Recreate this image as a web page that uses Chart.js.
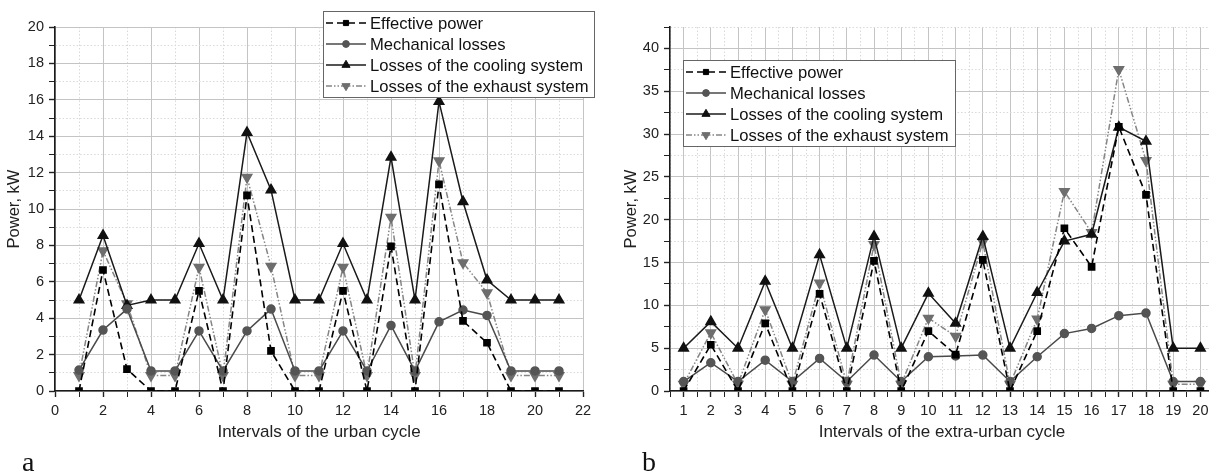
<!DOCTYPE html>
<html>
<head>
<meta charset="utf-8">
<script src="https://cdn.jsdelivr.net/npm/chart.js@4.4.0/dist/chart.umd.min.js"></script>
<style>
  body { margin: 0; width: 1209px; height: 474px; overflow: hidden; background: #fff; position: relative; }
  .box { position: absolute; top: 0; height: 474px; }
  #boxA { left: 0; width: 600px; }
  #boxB { left: 600px; width: 625px; }
  .tag { position: absolute; top: 448px; font-family: "Liberation Serif", "Times New Roman", serif; font-size: 28px; line-height: 28px; color: #111; }
</style>
</head>
<body>
<div class="box" id="boxA"><canvas id="urbanChart" width="600" height="474"></canvas></div>
<div class="box" id="boxB"><canvas id="extraChart" width="625" height="474"></canvas></div>
<div class="tag" style="left:22px">a</div>
<div class="tag" style="left:642px">b</div>
<script>
// urban cycle, kW per interval
const urbanIntervals = [1, 2, 3, 4, 5, 6, 7, 8, 9, 10, 11, 12, 13, 14, 15, 16, 17, 18, 19, 20, 21];
const urbanEffective = [0, 6.65, 1.2, 0, 0, 5.5, 0, 10.75, 2.2, 0, 0, 5.5, 0, 7.95, 0, 11.35, 3.85, 2.65, 0, 0, 0];
const urbanMechanical = [1.15, 3.35, 4.5, 1.1, 1.1, 3.3, 1.1, 3.3, 4.5, 1.1, 1.1, 3.3, 1.1, 3.6, 1.1, 3.8, 4.45, 4.15, 1.1, 1.1, 1.1];
const urbanCooling = [5, 8.55, 4.7, 5, 5, 8.1, 5, 14.2, 11.05, 5, 5, 8.1, 5, 12.85, 5, 15.9, 10.4, 6.1, 5, 5, 5];
const urbanExhaust = [0.85, 7.7, 4.8, 0.85, 0.85, 6.8, 0.85, 11.75, 6.85, 0.85, 0.85, 6.8, 0.85, 9.55, 0.85, 12.65, 7.05, 5.4, 0.85, 0.85, 0.85];

// extra-urban cycle, kW per interval
const extraIntervals = [1, 2, 3, 4, 5, 6, 7, 8, 9, 10, 11, 12, 13, 14, 15, 16, 17, 18, 19, 20];
const extraEffective = [0, 5.4, 0, 7.9, 0, 11.35, 0, 15.2, 0, 7.0, 4.25, 15.3, 0, 7.0, 19.0, 14.5, 30.85, 22.9, 0, 0];
const extraMechanical = [1.1, 3.3, 1.1, 3.6, 1.1, 3.8, 1.1, 4.2, 1.1, 4.0, 4.1, 4.2, 1.1, 4.0, 6.7, 7.3, 8.8, 9.1, 1.1, 1.1];
const extraCooling = [5, 8.1, 5, 12.8, 5, 15.9, 5, 18.05, 5, 11.4, 7.9, 18.05, 5, 11.5, 17.5, 18.3, 30.8, 29.15, 5, 5];
const extraExhaust = [0.8, 6.8, 0.8, 9.5, 0.8, 12.6, 0.8, 17.1, 0.8, 8.5, 6.4, 17.4, 0.8, 8.4, 23.3, 18.5, 37.55, 26.9, 0.8, 0.8];

const seriesNames = ['Effective power', 'Mechanical losses', 'Losses of the cooling system', 'Losses of the exhaust system'];

const sans = '"Liberation Sans", Arial, sans-serif';
const majorGrid = '#c4c4c4';
const minorGrid = '#d9d9d9';

function pts(xs, ys) {
  return xs.map((x, i) => ({ x: x, y: ys[i] }));
}

function makeDatasets(xs, eff, mech, cool, exh) {
  return [
    { label: seriesNames[0], data: pts(xs, eff), borderColor: '#000', borderWidth: 1.6, borderDash: [7, 4],
      pointStyle: 'rect', pointRadius: 4.3, pointBackgroundColor: '#000', pointBorderColor: '#000' },
    { label: seriesNames[1], data: pts(xs, mech), borderColor: '#4a4a4a', borderWidth: 1.5,
      pointStyle: 'circle', pointRadius: 4, pointBackgroundColor: '#555', pointBorderColor: '#555' },
    { label: seriesNames[2], data: pts(xs, cool), borderColor: '#1a1a1a', borderWidth: 1.5,
      pointStyle: 'triangle', pointRadius: 5.5, pointBackgroundColor: '#111', pointBorderColor: '#111' },
    { label: seriesNames[3], data: pts(xs, exh), borderColor: '#858585', borderWidth: 1.5, borderDash: [6, 2, 1.5, 2, 1.5, 2],
      pointStyle: 'triangle', pointRotation: 180, pointRadius: 5.5, pointBackgroundColor: '#6e6e6e', pointBorderColor: '#6e6e6e' }
  ];
}

// boxed legend drawn inside the plot, line sample with marker in the middle
const boxLegend = {
  id: 'boxLegend',
  afterDraw(chart, args, o) {
    const ctx = chart.ctx;
    ctx.save();
    ctx.fillStyle = '#fff';
    ctx.fillRect(o.x, o.y, o.w, o.h);
    ctx.strokeStyle = '#666';
    ctx.lineWidth = 1;
    ctx.strokeRect(o.x + 0.5, o.y + 0.5, o.w, o.h);
    chart.data.datasets.forEach((ds, i) => {
      const cy = o.y + o.first + i * o.row;
      const x0 = o.x + 3, x1 = x0 + 40;
      ctx.setLineDash(ds.borderDash || []);
      ctx.strokeStyle = ds.borderColor;
      ctx.lineWidth = ds.borderWidth;
      ctx.beginPath();
      ctx.moveTo(x0, cy);
      ctx.lineTo(x1, cy);
      ctx.stroke();
      ctx.setLineDash([]);
      ctx.fillStyle = ds.pointBackgroundColor;
      ctx.strokeStyle = ds.pointBorderColor;
      ctx.lineWidth = 1;
      Chart.helpers.drawPoint(ctx, { pointStyle: ds.pointStyle, rotation: ds.pointRotation || 0, radius: ds.pointRadius * 0.85, borderWidth: 1 }, (x0 + x1) / 2, cy);
      ctx.fillStyle = '#111';
      ctx.font = '16.6px ' + sans;
      ctx.textBaseline = 'middle';
      ctx.textAlign = 'left';
      ctx.fillText(ds.label, x1 + 4, cy + 1);
    });
    ctx.restore();
  }
};

function axis(cfg) {
  return {
    type: 'linear',
    min: cfg.min,
    max: cfg.max,
    afterFit: cfg.fit,
    ticks: {
      stepSize: cfg.step,
      autoSkip: false,
      maxRotation: 0,
      padding: 5,
      color: '#222',
      font: { family: sans, size: 14.5 },
      callback: v => cfg.isMajor(v) ? v : ''
    },
    grid: {
      color: c => (c.tick && cfg.isMajor(c.tick.value)) ? majorGrid : minorGrid,
      lineWidth: 1,
      tickColor: '#222',
      tickLength: 6,
      tickWidth: c => (c.tick && cfg.isMajor(c.tick.value)) ? 1.4 : 1
    },
    border: {
      color: '#1a1a1a',
      width: 1.6,
      dash: c => (c.tick && !cfg.isMajor(c.tick.value)) ? [1.5, 2] : []
    },
    title: {
      display: true,
      text: cfg.title,
      color: '#222',
      font: { family: sans, size: cfg.titleSize },
      padding: cfg.titlePad
    }
  };
}

function makeChart(id, datasets, xCfg, yCfg, pad, legendBox) {
  return new Chart(document.getElementById(id).getContext('2d'), {
    type: 'line',
    data: { datasets: datasets },
    options: {
      responsive: false,
      animation: false,
      devicePixelRatio: 1,
      layout: { padding: pad },
      elements: { line: { tension: 0 } },
      plugins: { legend: { display: false }, tooltip: { enabled: false }, boxLegend: legendBox },
      scales: { x: axis(xCfg), y: axis(yCfg) }
    },
    plugins: [boxLegend]
  });
}

makeChart('urbanChart',
  makeDatasets(urbanIntervals, urbanEffective, urbanMechanical, urbanCooling, urbanExhaust),
  { min: 0, max: 22, step: 1, isMajor: v => v % 2 === 0, title: 'Intervals of the urban cycle',
    titleSize: 17, titlePad: { bottom: 31 }, fit: s => { s.height = 83; } },
  { min: 0, max: 20, step: 1, isMajor: v => v % 2 === 0, title: 'Power, kW',
    titleSize: 16.5, titlePad: { top: 5 }, fit: s => { s.width = 55; } },
  { top: 27, right: 17, left: 0, bottom: 0 },
  { x: 323, y: 11, w: 271, h: 86, first: 12, row: 21 });

makeChart('extraChart',
  makeDatasets(extraIntervals, extraEffective, extraMechanical, extraCooling, extraExhaust),
  { min: 0.5, max: 20.5, step: 0.5, isMajor: v => Number.isInteger(v), title: 'Intervals of the extra-urban cycle',
    titleSize: 17, titlePad: { bottom: 31 }, fit: s => { s.height = 83; } },
  { min: 0, max: 42.5, step: 2.5, isMajor: v => v % 5 === 0, title: 'Power, kW',
    titleSize: 16.5, titlePad: { top: 22 }, fit: s => { s.width = 70; } },
  { top: 27, right: 11, left: 0, bottom: 0 },
  { x: 83, y: 60, w: 272, h: 86, first: 12, row: 21 });
</script>
</body>
</html>
